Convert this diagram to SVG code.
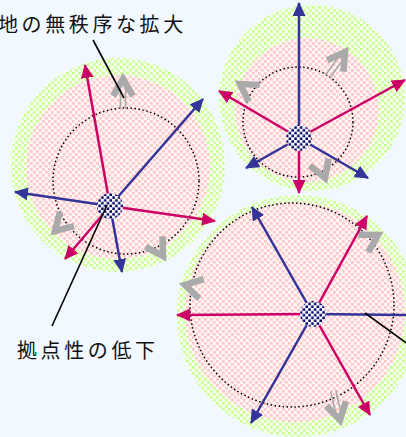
<svg xmlns="http://www.w3.org/2000/svg" xmlns:xlink="http://www.w3.org/1999/xlink" width="406" height="437" viewBox="0 0 406 437">
<style>
.green{fill:url(#pg)}
.pink{fill:url(#pp)}
.dot{fill:none;stroke:#000;stroke-width:1.5;stroke-dasharray:1.5 2.5}
.hub{fill:url(#ph)}
.m{stroke:#CC0066;stroke-width:2.5;fill:none;marker-end:url(#am)}
.b{stroke:#333399;stroke-width:2.5;fill:none;marker-end:url(#ab)}
.bn{stroke:#333399;stroke-width:2.5;fill:none}
.lead{stroke:#000;stroke-width:1.6;fill:none}
.lbl{font-family:"Noto Sans CJK JP","Noto Sans CJK SC",sans-serif;font-size:20px;letter-spacing:3.6px;fill:#111}
.gv{fill:none;stroke:#AAAAAA;stroke-width:6.5;stroke-linejoin:miter;stroke-miterlimit:10}
.gs{stroke:#AAAAAA;stroke-width:1.6}
</style>
<defs>
<pattern id="pg" width="6" height="6" patternUnits="userSpaceOnUse">
<rect width="6" height="6" fill="#F8FFF2"/>
<rect x="0" y="0" width="2.7" height="2.7" fill="#C8FF90"/>
<rect x="3" y="3" width="2.7" height="2.7" fill="#C8FF90"/>
</pattern>
<pattern id="pp" width="6" height="6" patternUnits="userSpaceOnUse">
<rect width="6" height="6" fill="#FFF5F5"/>
<rect x="0" y="0" width="2.7" height="2.7" fill="#FFC8C8"/>
<rect x="3" y="3" width="2.7" height="2.7" fill="#FFC8C8"/>
</pattern>
<pattern id="ph" width="5.6" height="5.6" patternUnits="userSpaceOnUse">
<rect width="5.6" height="5.6" fill="#FFFFFF"/>
<rect x="0.3" y="0.3" width="2.5" height="2.5" fill="#000066"/>
<rect x="3.1" y="3.1" width="2.5" height="2.5" fill="#000066"/>
</pattern>
<marker id="am" markerWidth="14" markerHeight="13" refX="13" refY="6.5" orient="auto" markerUnits="userSpaceOnUse">
<path d="M0,0 L14,6.5 L0,13 Z" fill="#CC0066"/>
</marker>
<marker id="ab" markerWidth="14" markerHeight="13" refX="13" refY="6.5" orient="auto" markerUnits="userSpaceOnUse">
<path d="M0,0 L14,6.5 L0,13 Z" fill="#333399"/>
</marker>
<polyline id="chev" class="gv" points="-10,17 0,0 10,17"/>
<g id="dbl">
<line class="gs" x1="-2.6" y1="5" x2="-2.6" y2="30"/>
<line class="gs" x1="2.6" y1="5" x2="2.6" y2="30"/>
<polyline class="gv" points="-10,17 0,0 10,17"/>
</g>
</defs>
<rect width="406" height="437" fill="#F2F8FF"/>

<g id="area1">
<circle class="green" cx="118" cy="165" r="107"/>
<circle class="pink" cx="118" cy="167" r="92"/>
<circle class="dot" cx="126" cy="181" r="73"/>
<use xlink:href="#dbl" transform="translate(123,79)"/>
<use xlink:href="#chev" transform="translate(55,231) rotate(-135)"/>
<use xlink:href="#chev" transform="translate(163,256) rotate(148)"/>
<line class="m" x1="110" y1="206" x2="85" y2="65"/>
<line class="b" x1="110" y1="206" x2="203" y2="99"/>
<line class="b" x1="110" y1="206" x2="15" y2="192"/>
<line class="m" x1="110" y1="206" x2="215" y2="221"/>
<line class="m" x1="110" y1="206" x2="65" y2="259"/>
<line class="b" x1="110" y1="206" x2="122" y2="272"/>
<circle class="hub" cx="110" cy="206" r="13"/>
</g>

<g id="area2">
<circle class="green" cx="312" cy="98" r="93"/>
<circle class="pink" cx="307" cy="110" r="72"/>
<circle class="dot" cx="298" cy="122" r="55"/>
<use xlink:href="#dbl" transform="translate(345,52) rotate(35)"/>
<use xlink:href="#chev" transform="translate(240,84) rotate(-57)"/>
<use xlink:href="#chev" transform="translate(325,178) rotate(160)"/>
<line class="b" x1="299" y1="138" x2="299" y2="3"/>
<line class="m" x1="299" y1="138" x2="405" y2="80"/>
<line class="m" x1="299" y1="138" x2="219" y2="91"/>
<line class="b" x1="299" y1="138" x2="246" y2="168"/>
<line class="m" x1="299" y1="138" x2="299" y2="193"/>
<line class="b" x1="299" y1="138" x2="368" y2="178"/>
<circle class="hub" cx="299" cy="138" r="13"/>
</g>

<g id="area3">
<circle class="green" cx="298" cy="316" r="121"/>
<circle class="pink" cx="295" cy="312" r="110"/>
<circle class="dot" cx="292" cy="305" r="102"/>
<use xlink:href="#chev" transform="translate(378,235) rotate(60)"/>
<use xlink:href="#chev" transform="translate(185,285) rotate(-77)"/>
<use xlink:href="#dbl" transform="translate(340,420) rotate(167)"/>
<line class="b" x1="313" y1="314" x2="252" y2="207"/>
<line class="m" x1="313" y1="314" x2="367" y2="216"/>
<line class="m" x1="313" y1="314" x2="177" y2="315"/>
<line class="bn" x1="313" y1="314" x2="410" y2="315"/>
<line class="b" x1="313" y1="314" x2="251" y2="423"/>
<line class="m" x1="313" y1="314" x2="370" y2="415"/>
<circle class="hub" cx="313" cy="314" r="13"/>
</g>

<g id="connectors">
<line class="lead" x1="93" y1="40" x2="124" y2="98"/>
<line class="lead" x1="52" y1="326" x2="107" y2="205"/>
<line class="lead" x1="365" y1="313" x2="412" y2="347"/>
</g>

<g id="label-sprawl">
<text class="lbl" x="-2" y="32">地の無秩序な拡大</text>
</g>
<g id="label-hub">
<text class="lbl" x="17" y="358">拠点性の低下</text>
</g>
</svg>
